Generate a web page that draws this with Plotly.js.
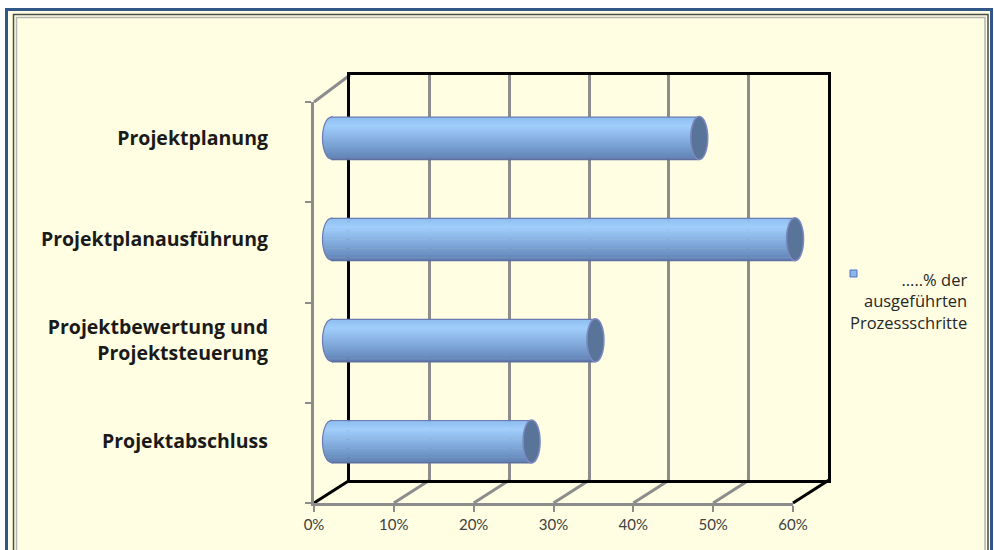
<!DOCTYPE html>
<html><head><meta charset="utf-8">
<script src="https://cdn.plot.ly/plotly-3.0.1.min.js"></script>
<style>html,body{margin:0;padding:0;background:#fff;}#chart{width:994px;height:550px;}</style>
</head><body><div id="chart"></div>
<script>
// ---- data ----
const categories = ['Projektplanung', 'Projektplanausführung', 'Projektbewertung und<br>Projektsteuerung', 'Projektabschluss'];
const values = [0.46, 0.58, 0.33, 0.25];
const seriesLines = ['…..% der', 'ausgeführten', 'Prozessschritte'];
const tickValues = [0, 0.1, 0.2, 0.3, 0.4, 0.5, 0.6];
const tickLabels = ['0%', '10%', '20%', '30%', '40%', '50%', '60%'];

// ---- layout helpers ----
const W = 994, H = 550;
const px = v => v / W;
const py = v => 1 - v / H;
const FONT = 'Lato, Carlito, "Open Sans", sans-serif';
const FONT_WIDE = '"Open Sans", "Noto Sans", sans-serif';
const xRange = [0, 0.6];
const xFrac = v => (v - xRange[0]) / (xRange[1] - xRange[0]);

// geometry of pseudo-3D (pixels)
const front = {x0: 314, x1: 793, y0: 102, y1: 503};
const back = {x0: 350, x1: 828, y0: 75, y1: 480};
const mid = {x0: 332, x1: 811, y0: 87.5, y1: 492};
const depthX = back.x0 - front.x0, depthYb = front.y1 - back.y1, depthYt = front.y0 - back.y0;

const barWidth = 0.425;
const nCat = categories.length;
const catPx = (mid.y1 - mid.y0) / nCat;
const barPx = barWidth * catPx;
const capA = 9.5, capB = barPx / 2;

// gradient bands (style only) top -> bottom
const stops = [[0, [0x8F, 0xBE, 0xF0]], [0.2, [0xA0, 0xCE, 0xFB]], [0.5, [0x88, 0xB2, 0xE3]], [0.8, [0x71, 0x97, 0xC9]], [1, [0x62, 0x83, 0xB5]]];
const colAt = f => {
  for (let k = 1; k < stops.length; k++) {
    if (f <= stops[k][0]) {
      const a = stops[k - 1], b = stops[k], t = (f - a[0]) / (b[0] - a[0]);
      const c = a[1].map((v, j) => Math.round(v + (b[1][j] - v) * t));
      return `rgb(${c[0]},${c[1]},${c[2]})`;
    }
  }
  return 'rgb(98,131,181)';
};
const edgeTop = 0.03, edgeBot = 0.97, nInner = 18;
const bands = [[0, edgeTop, '#6A7BB4']];
for (let k = 0; k < nInner; k++) {
  const f0 = edgeTop + (edgeBot - edgeTop) * k / nInner, f1 = edgeTop + (edgeBot - edgeTop) * (k + 1) / nInner;
  bands.push([f0, f1, colAt((k + 0.5) / nInner)]);
}
bands.push([edgeBot, 1, '#5E6FA2']);

// empty traces only register the front-plane and back-wall subplots
const traces = [
  {type: 'scatter', mode: 'markers', x: [], y: [], xaxis: 'x', yaxis: 'y', showlegend: false, hoverinfo: 'skip'},
  {type: 'scatter', mode: 'markers', x: [], y: [], xaxis: 'x2', yaxis: 'y2', showlegend: false, hoverinfo: 'skip'}
];
bands.forEach(b => traces.push({
  type: 'bar', orientation: 'h',
  x: values, y: categories,
  xaxis: 'x3', yaxis: 'y3',
  width: (b[1] - b[0]) * barWidth + 0.006,
  offset: -barWidth / 2 + b[0] * barWidth,
  marker: {color: b[2], line: {width: 0}},
  showlegend: false, hoverinfo: 'skip'
}));

const shapes = [];
// frame background
shapes.push({type: 'rect', xref: 'paper', yref: 'paper', x0: px(6.5), x1: px(991.5), y0: -0.1, y1: py(9.5),
  fillcolor: '#FFFEE2', line: {color: '#34578A', width: 3}, layer: 'below'});
shapes.push({type: 'rect', xref: 'paper', yref: 'paper', x0: px(13.5), x1: px(988), y0: -0.1, y1: py(14.5),
  fillcolor: 'rgba(0,0,0,0)', line: {color: '#4A4A4A', width: 1.5}, layer: 'below'});
shapes.push({type: 'rect', xref: 'paper', yref: 'paper', x0: px(16.5), x1: px(985), y0: -0.1, y1: py(17.5),
  fillcolor: 'rgba(0,0,0,0)', line: {color: '#B5B5B5', width: 1.5}, layer: 'below'});

// floor depth lines from each front tick to the back wall
tickValues.forEach((t, i) => {
  const edge = (i === 0 || i === tickValues.length - 1);
  shapes.push({type: 'line', xref: 'x domain', yref: 'y domain', xsizemode: 'pixel', ysizemode: 'pixel',
    xanchor: xFrac(t), yanchor: 0, x0: 0, x1: depthX, y0: 0, y1: depthYb,
    line: {color: edge ? '#000000' : '#8C8C8C', width: 3}, layer: 'below'});
});
// top-left side wall edge
shapes.push({type: 'line', xref: 'x domain', yref: 'y domain', xsizemode: 'pixel', ysizemode: 'pixel',
  xanchor: 0, yanchor: 1, x0: 0, x1: depthX, y0: 0, y1: depthYt,
  line: {color: '#8C8C8C', width: 3}, layer: 'below'});

// left rounded cylinder ends (banded to follow the gradient)
const ex = y => -capA * Math.sqrt(Math.max(0, 1 - (y / capB) * (y / capB)));
categories.forEach((c, i) => {
  const yAnc = 1 - (i + 0.5) / nCat;
  bands.forEach(b => {
    const yT = capB - b[0] * barPx, yB = capB - b[1] * barPx - 0.6;
    const steps = 3;
    let d = `M1,${yT.toFixed(2)}`;
    for (let s = 0; s <= steps; s++) {
      const y = yT + (yB - yT) * s / steps;
      d += ` L${ex(Math.max(-capB, Math.min(capB, y))).toFixed(2)},${y.toFixed(2)}`;
    }
    d += ` L1,${yB.toFixed(2)} Z`;
    shapes.push({type: 'path', xref: 'x3 domain', yref: 'y3 domain', xsizemode: 'pixel', ysizemode: 'pixel',
      xanchor: xFrac(0), yanchor: yAnc, path: d, fillcolor: b[2], line: {width: 0}, layer: 'below'});
  });
  let o = `M0,${capB.toFixed(2)}`;
  for (let s = 0; s <= 24; s++) {
    const y = capB - 2 * capB * s / 24;
    o += ` L${ex(y).toFixed(2)},${y.toFixed(2)}`;
  }
  shapes.push({type: 'path', xref: 'x3 domain', yref: 'y3 domain', xsizemode: 'pixel', ysizemode: 'pixel',
    xanchor: xFrac(0), yanchor: yAnc, path: o, fillcolor: 'rgba(0,0,0,0)', line: {color: '#6C79B2', width: 1.2}, layer: 'below'});
});

// right cylinder caps
values.forEach((v, i) => {
  shapes.push({type: 'circle', xref: 'x3', yref: 'y3', xsizemode: 'pixel',
    xanchor: v, x0: -8.5, x1: 8.5, y0: i - barWidth / 2, y1: i + barWidth / 2,
    fillcolor: '#587499', line: {color: '#7D88C2', width: 1.5}, layer: 'above'});
});

// legend glyph
shapes.push({type: 'rect', xref: 'paper', yref: 'paper', x0: px(850), x1: px(857), y0: py(277), y1: py(270),
  fillcolor: '#8DB6EA', line: {color: '#4F72C4', width: 1}, layer: 'above'});

const layout = {
  width: W, height: H,
  margin: {l: 0, r: 0, t: 0, b: 0},
  paper_bgcolor: '#FFFFFF', plot_bgcolor: 'rgba(0,0,0,0)',
  barmode: 'overlay', showlegend: false,
  font: {family: FONT, color: '#333333'},
  // front plane: value axis with labels, left side wall
  xaxis: {domain: [px(front.x0), px(front.x1)], range: xRange, anchor: 'y',
    tickvals: tickValues, ticktext: tickLabels, ticks: 'outside', ticklen: 6, tickwidth: 2, tickcolor: '#8C8C8C',
    showline: true, linecolor: '#8C8C8C', linewidth: 3, showgrid: false, zeroline: false,
    tickfont: {family: FONT, size: 15, color: '#404040'}, fixedrange: true, automargin: false},
  yaxis: {domain: [py(front.y1), py(front.y0)], range: [0, nCat], anchor: 'x',
    dtick: 1, tick0: 0, ticks: 'outside', ticklen: 6, tickwidth: 2, tickcolor: '#8C8C8C',
    showline: true, linecolor: '#8C8C8C', linewidth: 3, showgrid: false, zeroline: false,
    showticklabels: false, fixedrange: true, automargin: false},
  // back wall
  xaxis2: {domain: [px(back.x0), px(back.x1)], range: xRange, anchor: 'y2',
    dtick: 0.1, tick0: 0, showgrid: true, gridcolor: '#8C8C8C', gridwidth: 3,
    showline: true, mirror: true, linecolor: '#000000', linewidth: 3, zeroline: false,
    ticks: '', showticklabels: false, fixedrange: true, automargin: false},
  yaxis2: {domain: [py(back.y1), py(back.y0)], range: [0, 1], anchor: 'x2',
    showgrid: false, showline: true, mirror: true, linecolor: '#000000', linewidth: 3, zeroline: false,
    ticks: '', showticklabels: false, fixedrange: true, automargin: false},
  // bars (middle depth)
  xaxis3: {domain: [px(mid.x0), px(mid.x1)], range: xRange, anchor: 'y3', visible: false, fixedrange: true},
  yaxis3: {domain: [py(mid.y1), py(mid.y0)], range: [nCat - 0.5, -0.5], anchor: 'x3',
    type: 'category', showgrid: false, showline: false, zeroline: false, ticks: '',
    ticklabelstandoff: 63, tickfont: {family: FONT_WIDE, size: 19.5, color: '#1A1A1A', weight: 'bold'},
    fixedrange: true, automargin: false},
  shapes: shapes,
  annotations: [{xref: 'paper', yref: 'paper', x: px(969), y: py(301), xanchor: 'right', yanchor: 'middle',
    align: 'right', showarrow: false, text: seriesLines.join('<br>'),
    font: {family: FONT_WIDE, size: 16.5, color: '#262626'}}]
};

Plotly.newPlot('chart', traces, layout, {displayModeBar: false, staticPlot: true});
</script></body></html>
